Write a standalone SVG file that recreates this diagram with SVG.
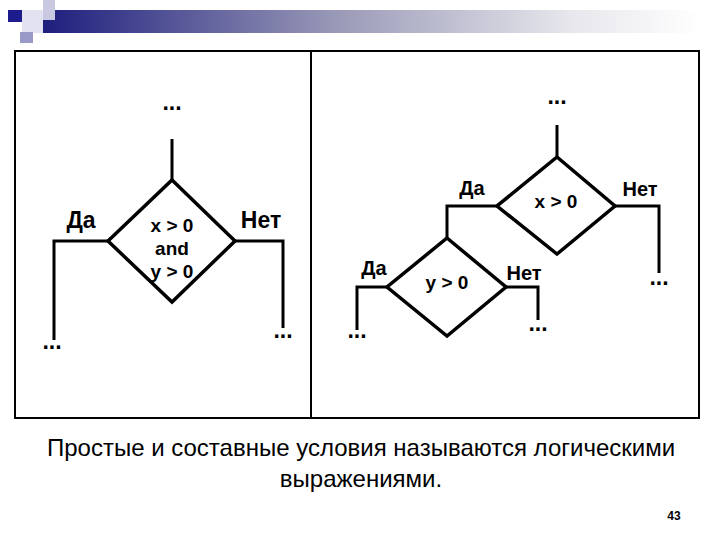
<svg xmlns="http://www.w3.org/2000/svg" width="720" height="540" viewBox="0 0 720 540">
<defs>
<linearGradient id="bar" x1="43" y1="0" x2="700" y2="0" gradientUnits="userSpaceOnUse">
<stop offset="0" stop-color="#1e1e7e"/>
<stop offset="0.45" stop-color="#9a9ab8"/>
<stop offset="0.8" stop-color="#e6e6ec"/>
<stop offset="1" stop-color="#ffffff"/>
</linearGradient>
<style>
.ln{fill:none;stroke:#000;stroke-width:3;stroke-linejoin:miter}
.dm{fill:#fff;stroke:#000;stroke-width:3.5;stroke-linejoin:miter}
.bx{fill:none;stroke:#000;stroke-width:2}
.t{font-family:"Liberation Sans",Arial,sans-serif;font-weight:bold;fill:#000;text-anchor:middle}
.lb{font-size:23px}
.lr{font-size:20px}
.c{font-size:19px}
.d{font-size:23px}
.cap{font-family:"Liberation Sans",Arial,sans-serif;font-size:24px;fill:#000;text-anchor:middle}
</style>
</defs>
<rect width="720" height="540" fill="#fff"/>
<g id="header">
<rect x="43" y="10" width="660" height="23" fill="url(#bar)"/>
<rect x="22" y="10" width="21" height="23" fill="#e2e2f0"/>
<rect x="43" y="0" width="12" height="20" fill="#c8c8e0"/>
<rect x="20" y="32" width="13" height="11" fill="#9a9ac8"/>
<rect x="8" y="10" width="14" height="12" fill="#1c1c8c"/>
</g>
<g id="frame">
<rect class="bx" x="15" y="51" width="684" height="367"/>
<line class="bx" x1="311" y1="51" x2="311" y2="418"/>
</g>
<g id="connectors">
<line class="ln" x1="172" y1="139" x2="172" y2="180"/>
<polyline class="ln" points="108,241 54,241 54,340"/>
<polyline class="ln" points="235,241 283,241 283,328"/>
<line class="ln" x1="557" y1="125" x2="557" y2="157"/>
<polyline class="ln" points="497,206 447,206 447,238"/>
<polyline class="ln" points="615,206 659,206 659,273"/>
<polyline class="ln" points="387,287 357,287 357,330"/>
<polyline class="ln" points="506,287 538,287 538,320"/>
</g>
<g id="dec1">
<polygon class="dm" points="172,180 235,241 172,302 108,241"/>
<text class="t c" x="172" y="232">x &gt; 0</text>
<text class="t c" x="172" y="255">and</text>
<text class="t c" x="172" y="278">y &gt; 0</text>
</g>
<g id="dec2">
<polygon class="dm" points="557,157 615,206 557,254 497,206"/>
<text class="t c" x="556" y="208">x &gt; 0</text>
</g>
<g id="dec3">
<polygon class="dm" points="447,238 506,287 447,336 387,287"/>
<text class="t c" x="447" y="289">y &gt; 0</text>
</g>
<g id="labels">
<text class="t lb" x="81" y="228">Да</text>
<text class="t lb" x="261" y="228">Нет</text>
<text class="t lr" x="472" y="195">Да</text>
<text class="t lr" x="640" y="196">Нет</text>
<text class="t lr" x="374" y="275">Да</text>
<text class="t lr" x="524" y="280">Нет</text>
</g>
<g id="dots">
<text class="t d" x="172" y="110">...</text>
<text class="t d" x="52" y="349">...</text>
<text class="t d" x="283" y="338">...</text>
<text class="t d" x="557" y="104">...</text>
<text class="t d" x="659" y="285">...</text>
<text class="t d" x="538" y="331">...</text>
<text class="t d" x="357" y="338">...</text>
</g>
<g id="caption">
<text class="cap" x="361" y="456">Простые и составные условия называются логическими</text>
<text class="cap" x="361" y="487">выражениями.</text>
<text class="t" x="674" y="520" style="font-size:12px">43</text>
</g>
</svg>
